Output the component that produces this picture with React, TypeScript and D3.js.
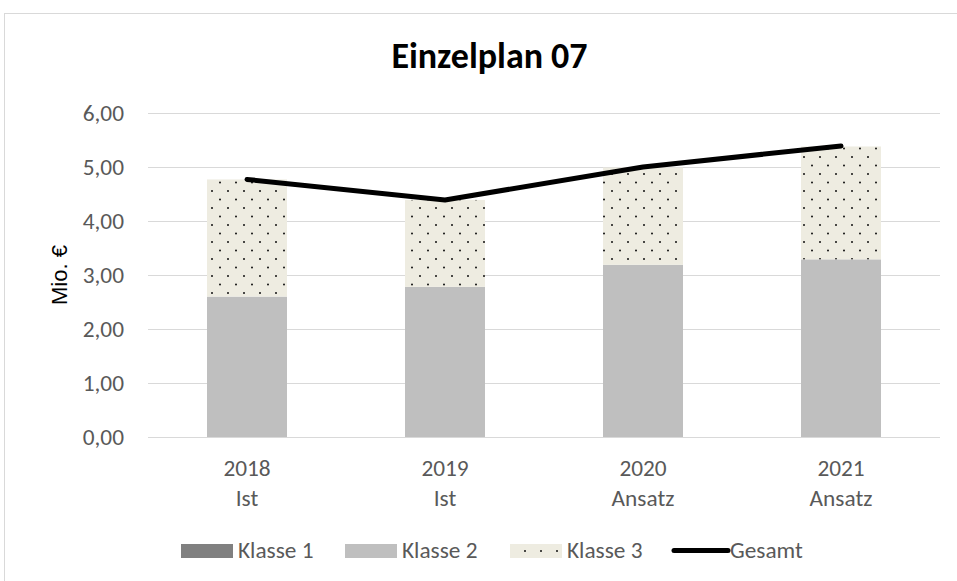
import React from "react";
import * as d3 from "d3";

const years = ["2018", "2019", "2020", "2021"];
const stages = ["Ist", "Ist", "Ansatz", "Ansatz"];
const klasse1 = [0, 0, 0, 0];
const klasse2 = [2.6, 2.78, 3.19, 3.29];
const klasse3 = [2.17, 1.61, 1.8, 2.09];
const gesamt = [4.77, 4.39, 5.0, 5.39];
const yTicks = [0, 1, 2, 3, 4, 5, 6];
const legendLabels = ["Klasse 1", "Klasse 2", "Klasse 3", "Gesamt"];

const W = 957;
const H = 581;
const FONT = "Carlito, 'Liberation Sans', sans-serif";
const TEXT = "#595959";
const GRID = "#d9d9d9";

const App = () => {
  const x = d3
    .scaleBand<number>()
    .domain(d3.range(years.length))
    .range([148, 940])
    .paddingInner(0.596)
    .paddingOuter(0.298);
  const y = d3.scaleLinear().domain([0, 6]).range([437, 113]);
  const fmt = (v: number) => v.toFixed(2).replace(".", ",");
  const cx = (i: number) => (x(i) as number) + x.bandwidth() / 2;

  const stacked = d3
    .stack<number>()
    .keys(["k1", "k2", "k3"])
    .value((i, key) =>
      key === "k1" ? klasse1[i] : key === "k2" ? klasse2[i] : klasse3[i]
    )(d3.range(years.length));

  const fills = ["#808080", "#bfbfbf", "url(#dots)"];

  const line = d3
    .line<number>()
    .x((d, i) => cx(i))
    .y((d) => y(d));

  // legend layout (swatch left edges)
  const legendX = [181, 345, 510, 672];

  return (
    <svg
      width={W}
      height={H}
      style={{ position: "absolute", left: 0, top: 0, display: "block" }}
      fontFamily={FONT}
    >
      <defs>
        <pattern id="dots" width={16} height={17} patternUnits="userSpaceOnUse" x={204} y={0}>
          <rect width={16} height={17} fill="#eeece1" />
          <circle cx={8} cy={4} r={1} fill="#111" />
          <circle cx={16} cy={12.5} r={1} fill="#111" />
          <circle cx={0} cy={12.5} r={1} fill="#111" />
        </pattern>
        <pattern id="dotsLegend" width={16} height={16} patternUnits="userSpaceOnUse" x={517} y={543}>
          <rect width={16} height={16} fill="#eeece1" />
          <circle cx={8} cy={8} r={1} fill="#111" />
        </pattern>
      </defs>
      <rect x={0} y={0} width={W} height={H} fill="#fff" />
      <rect x={4.5} y={13.5} width={W + 10} height={H + 10} fill="none" stroke={GRID} />

      <text x={489.5} y={68} textAnchor="middle" fontSize={36} fontWeight="bold" fill="#000">
        Einzelplan 07
      </text>

      {yTicks.map((t) => (
        <g key={t}>
          <line x1={148} x2={940} y1={y(t) + 0.5} y2={y(t) + 0.5} stroke={GRID} strokeWidth={1} />
          <text x={124} y={y(t) + 7.5} textAnchor="end" fontSize={23.3} fill={TEXT}>
            {fmt(t)}
          </text>
        </g>
      ))}

      <text
        transform={`translate(67, ${y(3)}) rotate(-90)`}
        textAnchor="middle"
        fontSize={22}
        fontFamily="'Liberation Sans', Arial, sans-serif"
        fill="#000"
      >
        Mio. €
      </text>

      {stacked.map((layer, li) =>
        layer.map((d, i) => (
          <rect
            key={`${li}-${i}`}
            x={x(i)}
            width={x.bandwidth()}
            y={y(d[1])}
            height={Math.max(0, y(d[0]) - y(d[1]))}
            fill={fills[li]}
          />
        ))
      )}

      <path
        d={line(gesamt) || ""}
        fill="none"
        stroke="#000"
        strokeWidth={5}
        strokeLinecap="round"
        strokeLinejoin="round"
      />

      {years.map((yr, i) => (
        <g key={yr}>
          <text x={cx(i)} y={476} textAnchor="middle" fontSize={23.3} fill={TEXT}>
            {yr}
          </text>
          <text x={cx(i)} y={506} textAnchor="middle" fontSize={23.3} fill={TEXT}>
            {stages[i]}
          </text>
        </g>
      ))}

      {legendLabels.map((label, i) => {
        const x0 = legendX[i];
        const isLine = i === 3;
        return (
          <g key={label}>
            {isLine ? (
              <line x1={x0 + 2} x2={x0 + 56} y1={550.5} y2={550.5} stroke="#000" strokeWidth={5} strokeLinecap="round" />
            ) : (
              <rect
                x={x0}
                y={544}
                width={52}
                height={14}
                fill={i === 0 ? fills[0] : i === 1 ? fills[1] : "url(#dotsLegend)"}
              />
            )}
            <text x={isLine ? x0 + 58 : x0 + 57} y={558} fontSize={23.3} fill={TEXT}>
              {label}
            </text>
          </g>
        );
      })}
    </svg>
  );
};

export default App;
